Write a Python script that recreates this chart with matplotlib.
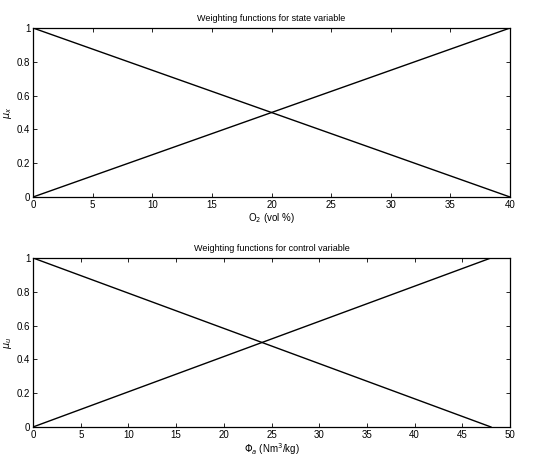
import numpy as np
import matplotlib.pyplot as plt

# top panel: state variable (O2)
o2_x = [0, 40]
o2_mu_low = [1, 0]
o2_mu_high = [0, 1]

# bottom panel: control variable (Phi_a)
phi_x = [0, 48]
phi_mu_low = [1, 0]
phi_mu_high = [0, 1]

plt.rcParams['font.family'] = ['Liberation Sans', 'DejaVu Sans']
plt.rcParams['font.size'] = 7

fig = plt.figure(figsize=(5.42, 4.63), dpi=100)
ax1 = fig.add_axes([0.061, 0.5745, 0.880, 0.365])
ax2 = fig.add_axes([0.061, 0.0778, 0.880, 0.365])


def style(ax, xmax, xticks):
    ax.set_xlim(0, xmax)
    ax.set_ylim(0, 1)
    ax.set_xticks(xticks)
    ax.set_yticks([0, 0.2, 0.4, 0.6, 0.8, 1])
    ax.set_yticklabels(['0', '0.2', '0.4', '0.6', '0.8', '1'])
    ax.tick_params(direction='in', top=True, right=True, length=3, width=0.6, pad=2)
    for s in ax.spines.values():
        s.set_linewidth(0.9)


ax1.plot(o2_x, o2_mu_low, color='k', lw=1.0)
ax1.plot(o2_x, o2_mu_high, color='k', lw=1.0)
style(ax1, 40, np.arange(0, 41, 5))
ax1.set_title('Weighting functions for state variable', fontsize=6.5, pad=5)
ax1.set_xlabel(r'O$_2$ (vol %)', labelpad=1)
ax1.set_ylabel(r'$\mu_x$', labelpad=2)

ax2.plot(phi_x, phi_mu_low, color='k', lw=1.0)
ax2.plot(phi_x, phi_mu_high, color='k', lw=1.0)
style(ax2, 50, np.arange(0, 51, 5))
ax2.set_title('Weighting functions for control variable', fontsize=6.5, pad=5)
ax2.set_xlabel(r'$\Phi_a$ (Nm$^3$/kg)', labelpad=1)
ax2.set_ylabel(r'$\mu_u$', labelpad=2)

fig.savefig('out.png', dpi=100)
